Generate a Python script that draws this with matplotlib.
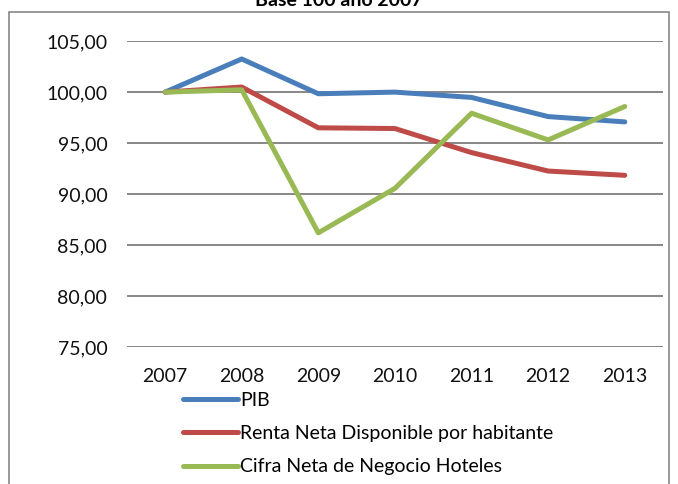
import matplotlib.pyplot as plt
from matplotlib.patches import Rectangle
from matplotlib.ticker import FuncFormatter

years = ["2007", "2008", "2009", "2010", "2011", "2012", "2013"]
pib = [100.0, 103.25, 99.84, 100.0, 99.48, 97.6, 97.08]
renta = [100.0, 100.5, 96.5, 96.43, 94.07, 92.26, 91.84]
cifra = [100.0, 100.23, 86.2, 90.56, 97.93, 95.31, 98.59]

plt.rcParams['font.family'] = ['Lato', 'DejaVu Sans']

fig = plt.figure(figsize=(6.78, 4.84), dpi=100)
ax = fig.add_axes([0.187, 0.283, 0.791, 0.632])

x = range(len(years))
ax.plot(x, pib, color="#4A7EBB", lw=3.6, label="PIB", solid_capstyle="round")
ax.plot(x, renta, color="#BE4B48", lw=3.6, label="Renta Neta Disponible por habitante", solid_capstyle="round")
ax.plot(x, cifra, color="#98B954", lw=3.6, label="Cifra Neta de Negocio Hoteles", solid_capstyle="round")

ax.set_xlim(-0.5, 6.5)
ax.set_ylim(75, 105)
ax.set_yticks([75, 80, 85, 90, 95, 100, 105])
ax.yaxis.set_major_formatter(FuncFormatter(lambda v, p: f"{v:.2f}".replace(".", ",")))
ax.set_xticks(list(x))
ax.set_xticklabels(years)
ax.grid(axis="y", color="#878787", lw=1.4)
ax.set_axisbelow(True)
for s in ax.spines.values():
    s.set_visible(False)
ax.tick_params(length=0, labelsize=14, colors="#111111")
ax.tick_params(axis="y", pad=14)
ax.tick_params(axis="x", pad=15)

ax.legend(loc="upper left", bbox_to_anchor=(0.27, 0.19), bbox_transform=fig.transFigure,
          frameon=False, fontsize=14, handlelength=2.85, handletextpad=0.1,
          labelspacing=0.83, borderpad=0, borderaxespad=0)

# title sits partly above the top edge, as in the original
fig.text(0.5, 0.9866, "Base 100 año 2007", ha="center", va="baseline", fontsize=14, fontweight="bold")
fig.patches.append(Rectangle((9/678, -0.01), 660/678, 1 - 12/484 + 0.01, transform=fig.transFigure,
                             fill=False, edgecolor="#878787", lw=1.2))

fig.savefig("out.png", dpi=100)
